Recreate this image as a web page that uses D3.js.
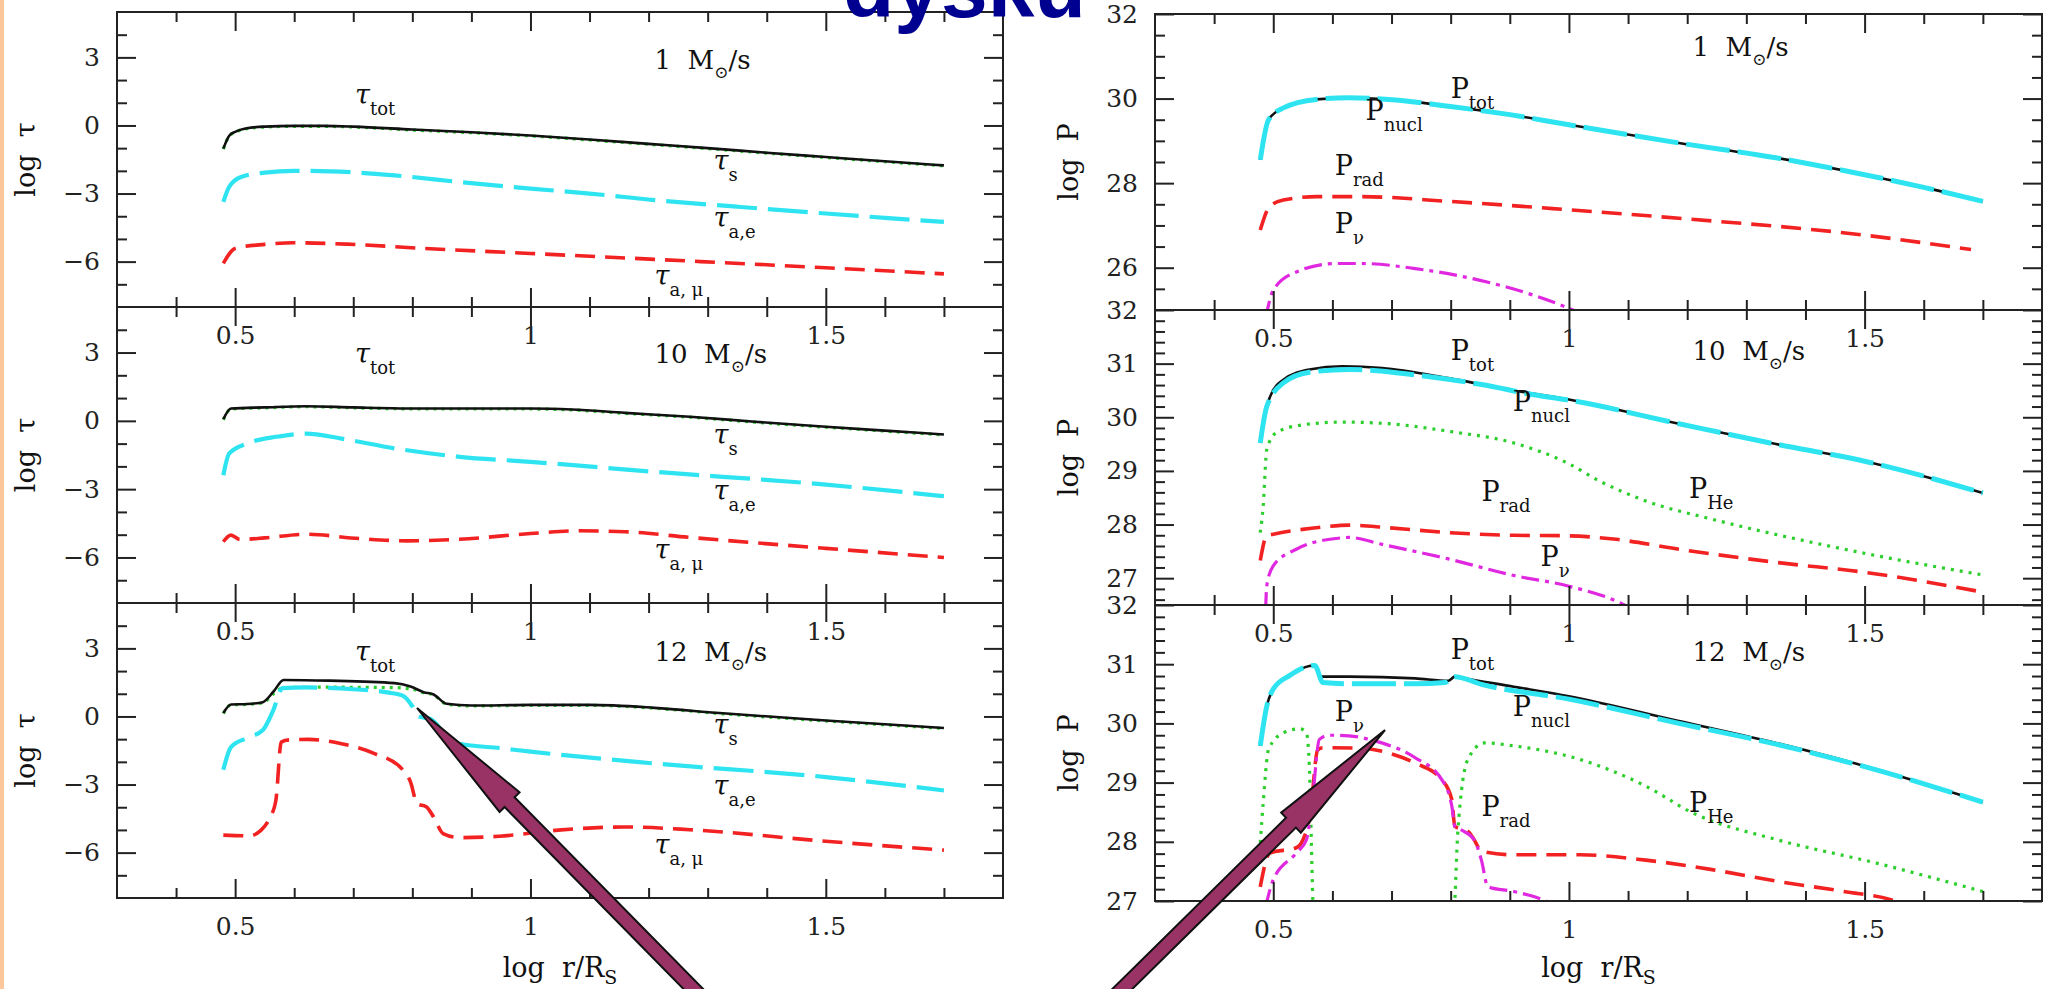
<!DOCTYPE html>
<html>
<head>
<meta charset="utf-8">
<script src="https://cdn.jsdelivr.net/npm/d3@7/dist/d3.min.js"></script>
<style>
  body { margin: 0; background: #fff; overflow: hidden; }
  svg { display: block; }
  text { white-space: pre; }
</style>
</head>
<body>
<svg id="chart" width="2052" height="989"></svg>
<script>
// ---------------- data ----------------
var xMajor = [0.5, 1, 1.5];
var xMinor = [0.4, 0.6, 0.7, 0.8, 0.9, 1.1, 1.2, 1.3, 1.4, 1.6, 1.7];
var xTickLabels = ["0.5", "1", "1.5"];

var tauMajor = [3, 0, -3, -6];
var tauMinor = [4, 2, 1, -1, -2, -4, -5, -7];
var tauTickLabels = ["3", "0", "\u22123", "\u22126"];

var p1Major = [32, 30, 28, 26];
var p1Minor = [31.5, 31, 30.5, 29.5, 29, 28.5, 27.5, 27, 26.5, 25.5];
var p1TickLabels = ["32", "30", "28", "26"];
var p2Major = [32, 31, 30, 29, 28, 27];
var p2Minor = [31.8, 31.6, 31.4, 31.2, 30.8, 30.6, 30.4, 30.2, 29.8, 29.6, 29.4, 29.2,
               28.8, 28.6, 28.4, 28.2, 27.8, 27.6, 27.4, 27.2, 26.8, 26.6];
var p3Minor = [31.8, 31.6, 31.4, 31.2, 30.8, 30.6, 30.4, 30.2, 29.8, 29.6, 29.4, 29.2,
               28.8, 28.6, 28.4, 28.2, 27.8, 27.6, 27.4, 27.2];
var p2TickLabels = ["32", "31", "30", "29", "28", "27"];

var massRates = ["1", "10", "12"];

// optical depths, 1 Msun/s
var tauTot1 = [[0.48,-1.02],[0.49,-0.45],[0.50,-0.28],[0.52,-0.12],[0.55,-0.05],[0.60,-0.02],[0.65,-0.02],[0.70,-0.05],[0.80,-0.18],[0.90,-0.30],[1.00,-0.44],[1.10,-0.62],[1.20,-0.81],[1.30,-1.00],[1.40,-1.20],[1.50,-1.39],[1.60,-1.58],[1.70,-1.76]];
var tauS1 = [[0.48,-1.04],[0.49,-0.47],[0.50,-0.30],[0.52,-0.14],[0.55,-0.07],[0.60,-0.04],[0.65,-0.04],[0.70,-0.07],[0.80,-0.20],[0.90,-0.32],[1.00,-0.46],[1.10,-0.64],[1.20,-0.83],[1.30,-1.02],[1.40,-1.22],[1.50,-1.41],[1.60,-1.60],[1.70,-1.78]];
var tauAe1 = [[0.48,-3.37],[0.49,-2.70],[0.51,-2.27],[0.55,-2.08],[0.60,-2.00],[0.66,-2.02],[0.77,-2.20],[0.88,-2.49],[1.00,-2.78],[1.10,-3.00],[1.21,-3.29],[1.35,-3.58],[1.50,-3.88],[1.60,-4.07],[1.70,-4.25]];
var tauAmu1 = [[0.48,-6.08],[0.50,-5.42],[0.55,-5.24],[0.60,-5.17],[0.69,-5.23],[0.82,-5.42],[1.00,-5.64],[1.21,-5.90],[1.50,-6.27],[1.70,-6.54]];

// 10 Msun/s
var tauTot10 = [[0.48,0.07],[0.493,0.54],[0.55,0.59],[0.62,0.64],[0.70,0.59],[0.82,0.54],[1.00,0.54],[1.07,0.50],[1.16,0.35],[1.27,0.18],[1.38,-0.04],[1.50,-0.26],[1.60,-0.43],[1.70,-0.60]];
var tauS10 = [[0.48,0.05],[0.493,0.52],[0.55,0.57],[0.62,0.62],[0.70,0.57],[0.82,0.52],[1.00,0.52],[1.07,0.48],[1.16,0.33],[1.27,0.16],[1.38,-0.06],[1.50,-0.28],[1.60,-0.45],[1.70,-0.62]];
var tauAe10 = [[0.48,-2.39],[0.49,-1.43],[0.52,-1.00],[0.57,-0.70],[0.62,-0.56],[0.68,-0.78],[0.77,-1.21],[0.88,-1.58],[1.00,-1.80],[1.21,-2.24],[1.50,-2.80],[1.70,-3.31]];
var tauAmu10 = [[0.48,-5.31],[0.493,-5.02],[0.508,-5.21],[0.55,-5.14],[0.62,-4.98],[0.71,-5.17],[0.79,-5.27],[0.88,-5.20],[1.00,-4.95],[1.08,-4.83],[1.16,-4.87],[1.27,-5.12],[1.50,-5.60],[1.70,-6.00]];

// 12 Msun/s
var tauTot12 = [[0.48,0.15],[0.493,0.53],[0.52,0.55],[0.547,0.63],[0.565,1.10],[0.582,1.61],[0.66,1.58],[0.77,1.47],[0.797,1.32],[0.819,1.07],[0.836,0.97],[0.858,0.56],[0.90,0.48],[1.00,0.51],[1.10,0.51],[1.21,0.38],[1.32,0.15],[1.50,-0.18],[1.70,-0.51]];
var tauS12 = [[0.48,0.13],[0.493,0.51],[0.52,0.53],[0.547,0.60],[0.565,1.00],[0.582,1.27],[0.66,1.29],[0.77,1.27],[0.80,1.20],[0.819,1.05],[0.836,0.95],[0.858,0.54],[0.90,0.46],[1.00,0.49],[1.10,0.49],[1.21,0.36],[1.32,0.13],[1.50,-0.20],[1.70,-0.53]];
var tauAe12 = [[0.48,-2.35],[0.493,-1.35],[0.52,-0.95],[0.547,-0.60],[0.565,0.30],[0.58,1.25],[0.62,1.28],[0.70,1.20],[0.76,1.05],[0.785,0.90],[0.80,0.45],[0.81,0.00],[0.83,-0.10],[0.86,-0.90],[0.88,-1.20],[0.95,-1.40],[1.00,-1.55],[1.20,-2.05],[1.50,-2.67],[1.70,-3.26]];
var tauAmu12 = [[0.48,-5.23],[0.524,-5.26],[0.544,-5.01],[0.558,-4.50],[0.569,-3.69],[0.578,-1.13],[0.591,-1.03],[0.624,-1.01],[0.68,-1.20],[0.736,-1.64],[0.782,-2.30],[0.797,-2.89],[0.808,-3.84],[0.824,-3.99],[0.836,-4.43],[0.852,-5.16],[0.88,-5.34],[0.947,-5.28],[1.047,-5.01],[1.158,-4.87],[1.27,-4.99],[1.50,-5.50],[1.70,-5.89]];

// luminosities, 1 Msun/s
var pTot1 = [[0.478,28.55],[0.492,29.50],[0.517,29.78],[0.573,29.98],[0.628,30.02],[0.695,29.98],[0.796,29.82],[0.90,29.62],[1.00,29.38],[1.186,28.95],[1.35,28.60],[1.50,28.20],[1.60,27.90],[1.70,27.57]];
var pNucl1 = [[0.478,28.55],[0.492,29.50],[0.517,29.78],[0.573,29.98],[0.628,30.02],[0.695,29.98],[0.796,29.82],[0.90,29.62],[1.00,29.38],[1.186,28.95],[1.35,28.60],[1.50,28.20],[1.60,27.90],[1.70,27.57]];
var pRad1 = [[0.478,26.89],[0.494,27.45],[0.517,27.60],[0.573,27.68],[0.65,27.68],[0.796,27.57],[1.00,27.37],[1.186,27.17],[1.50,26.77],[1.68,26.43]];
var pNu1 = [[0.487,24.80],[0.50,25.47],[0.539,25.90],[0.606,26.10],[0.65,26.10],[0.74,25.98],[0.85,25.70],[0.94,25.35],[1.01,24.98],[1.03,24.85]];

// 10 Msun/s
var pTot10 = [[0.478,29.52],[0.489,30.20],[0.50,30.51],[0.517,30.70],[0.561,30.89],[0.617,30.95],[0.684,30.92],[0.796,30.73],[0.907,30.50],[1.00,30.33],[1.186,29.88],[1.35,29.50],[1.50,29.18],[1.70,28.59]];
var pNucl10 = [[0.478,29.52],[0.489,30.20],[0.517,30.64],[0.561,30.84],[0.628,30.89],[0.74,30.79],[0.852,30.61],[0.941,30.42],[1.00,30.32],[1.186,29.88],[1.35,29.50],[1.50,29.18],[1.70,28.59]];
var pHe10 = [[0.478,27.85],[0.483,28.35],[0.489,29.40],[0.505,29.71],[0.55,29.86],[0.617,29.91],[0.695,29.88],[0.796,29.74],[0.907,29.52],[0.997,29.15],[1.052,28.81],[1.13,28.44],[1.242,28.10],[1.41,27.67],[1.52,27.42],[1.70,27.06]];
var pRad10 = [[0.478,27.33],[0.489,27.79],[0.50,27.82],[0.573,27.94],[0.628,27.99],[0.695,27.94],[0.796,27.85],[0.907,27.80],[1.00,27.79],[1.075,27.73],[1.186,27.54],[1.354,27.29],[1.50,27.11],[1.70,26.74]];
var pNu10 = [[0.487,26.40],[0.489,26.86],[0.50,27.23],[0.539,27.54],[0.606,27.74],[0.628,27.76],[0.684,27.63],[0.796,27.36],[0.907,27.05],[1.00,26.85],[1.09,26.52],[1.11,26.40]];

// 12 Msun/s
var pTot12 = [[0.478,29.62],[0.489,30.29],[0.50,30.58],[0.528,30.81],[0.561,30.97],[0.57,30.98],[0.581,30.79],[0.628,30.79],[0.74,30.76],[0.796,30.72],[0.807,30.79],[0.818,30.77],[0.907,30.62],[1.00,30.46],[1.186,30.04],[1.35,29.67],[1.50,29.28],[1.70,28.67]];
var pNucl12 = [[0.478,29.62],[0.489,30.29],[0.50,30.58],[0.528,30.81],[0.561,30.97],[0.57,30.98],[0.584,30.69],[0.628,30.67],[0.74,30.67],[0.79,30.69],[0.807,30.79],[0.852,30.66],[1.00,30.41],[1.186,30.00],[1.35,29.65],[1.50,29.27],[1.70,28.67]];
var pHe12 = [[0.478,27.98],[0.483,28.66],[0.492,29.56],[0.517,29.84],[0.545,29.91],[0.556,29.84],[0.561,29.28],[0.567,27.00],[0.572,26.00],[0.80,26.00],[0.807,27.00],[0.812,28.15],[0.829,29.39],[0.857,29.67],[0.907,29.62],[1.019,29.39],[1.13,28.94],[1.209,28.49],[1.354,28.03],[1.52,27.64],[1.70,27.16]];
var pRad12 = [[0.478,27.24],[0.494,27.81],[0.539,27.90],[0.55,28.03],[0.563,28.50],[0.575,29.55],[0.584,29.59],[0.65,29.58],[0.695,29.50],[0.74,29.33],[0.785,29.05],[0.802,28.71],[0.807,28.26],[0.829,28.18],[0.84,28.03],[0.852,27.84],[0.907,27.78],[1.019,27.78],[1.13,27.69],[1.242,27.53],[1.354,27.33],[1.465,27.16],[1.554,26.99],[1.57,26.90]];
var pNu12 = [[0.487,26.90],[0.50,27.36],[0.539,27.81],[0.556,28.03],[0.567,28.80],[0.578,29.73],[0.595,29.80],[0.628,29.79],[0.673,29.70],[0.74,29.42],[0.785,29.05],[0.802,28.60],[0.807,28.26],[0.818,28.20],[0.84,28.03],[0.852,27.69],[0.863,27.24],[0.907,27.16],[0.963,26.99],[0.98,26.90]];

// ---------------- styles ----------------
var sty = {
  tot:  {stroke: "#111", width: 2.6, dash: null},
  s:    {stroke: "#2ccf2c", width: 3.2, dash: "3,5"},
  ae:   {stroke: "#2ee4f0", width: 4.2, dash: "40,11"},
  amu:  {stroke: "#f22222", width: 3.6, dash: "20,10"},
  ptot: {stroke: "#111", width: 2.6, dash: null},
  nucl: {stroke: "#2ee4f0", width: 5, dash: "44,8"},
  rad:  {stroke: "#f22222", width: 3.6, dash: "20,10"},
  he:   {stroke: "#2ccf2c", width: 3.2, dash: "3,6"},
  nu:   {stroke: "#e028e0", width: 3.2, dash: "18,6,4,6"}
};

var FONT = "DejaVu Serif";
var svg = d3.select("#chart");

// orange strip on the left edge of the slide
svg.append("rect").attr("x", 0).attr("y", 0).attr("width", 4).attr("height", 989).attr("fill", "#fcc89b");

var L = {x0: 117, x1: 1003, rows: [12, 307, 603, 898]};
var R = {x0: 1155, x1: 2042, rows: [14, 310, 605, 901]};

var panels = [
  {box: L, row: 0, dom: [-8, 5], major: tauMajor, minor: tauMinor, tl: tauTickLabels,
   series: [[tauS1, sty.s], [tauTot1, sty.tot], [tauAe1, sty.ae], [tauAmu1, sty.amu]],
   notes: [["\u03c4", "tot", 0.703, 0.95], ["\u03c4", "s", 1.31, -1.98], ["\u03c4", "a,e", 1.31, -4.47], ["\u03c4", "a, \u03bc", 1.21, -7.03]],
   mass: [1.21, 2.49]},
  {box: L, row: 1, dom: [-8, 5], major: tauMajor, minor: tauMinor, tl: tauTickLabels,
   series: [[tauS10, sty.s], [tauTot10, sty.tot], [tauAe10, sty.ae], [tauAmu10, sty.amu]],
   notes: [["\u03c4", "tot", 0.703, 2.52], ["\u03c4", "s", 1.31, -1.0], ["\u03c4", "a,e", 1.31, -3.48], ["\u03c4", "a, \u03bc", 1.21, -6.05]],
   mass: [1.21, 2.52]},
  {box: L, row: 2, dom: [-8, 5], major: tauMajor, minor: tauMinor, tl: tauTickLabels,
   series: [[tauS12, sty.s], [tauTot12, sty.tot], [tauAe12, sty.ae], [tauAmu12, sty.amu]],
   notes: [["\u03c4", "tot", 0.703, 2.46], ["\u03c4", "s", 1.31, -0.76], ["\u03c4", "a,e", 1.31, -3.47], ["\u03c4", "a, \u03bc", 1.21, -6.04]],
   mass: [1.21, 2.46]},
  {box: R, row: 0, dom: [25, 32], major: p1Major, minor: p1Minor, tl: p1TickLabels,
   series: [[pNu1, sty.nu], [pRad1, sty.rad], [pTot1, sty.ptot], [pNucl1, sty.nucl]],
   notes: [["P", "tot", 0.80, 30.02], ["P", "nucl", 0.656, 29.5], ["P", "rad", 0.604, 28.2], ["P", "\u03bd", 0.604, 26.81]],
   mass: [1.209, 31.0]},
  {box: R, row: 1, dom: [26.5, 32], major: p2Major, minor: p2Minor, tl: p2TickLabels,
   series: [[pHe10, sty.he], [pRad10, sty.rad], [pNu10, sty.nu], [pTot10, sty.ptot], [pNucl10, sty.nucl]],
   notes: [["P", "tot", 0.80, 31.07], ["P", "nucl", 0.905, 30.11], ["P", "He", 1.203, 28.5], ["P", "rad", 0.852, 28.44], ["P", "\u03bd", 0.952, 27.23]],
   mass: [1.209, 31.07]},
  {box: R, row: 2, dom: [27, 32], major: p2Major, minor: p3Minor, tl: p2TickLabels,
   series: [[pHe12, sty.he], [pRad12, sty.rad], [pNu12, sty.nu], [pTot12, sty.ptot], [pNucl12, sty.nucl]],
   notes: [["P", "tot", 0.80, 31.08], ["P", "nucl", 0.905, 30.12], ["P", "\u03bd", 0.604, 30.04], ["P", "rad", 0.852, 28.43], ["P", "He", 1.203, 28.51]],
   mass: [1.209, 31.06]}
];

function styleAxis(g) {
  g.select(".domain").remove();
  g.attr("color", "#222").attr("font-family", FONT).attr("font-size", 25);
  g.selectAll("line").attr("stroke-width", 2);
}

panels.forEach(function(p, i) {
  var b = p.box, top = b.rows[p.row], bot = b.rows[p.row + 1];
  var x = d3.scaleLinear().domain([0.3, 1.8]).range([b.x0, b.x1]);
  var y = d3.scaleLinear().domain(p.dom).range([bot, top]);
  var g = svg.append("g");

  var clipId = "clip" + i;
  svg.append("clipPath").attr("id", clipId).append("rect")
     .attr("x", b.x0).attr("y", top).attr("width", b.x1 - b.x0).attr("height", bot - top);

  // curves
  var line = d3.line().x(function(d) { return x(d[0]); }).y(function(d) { return y(d[1]); })
               .curve(d3.curveMonotoneX);
  var cg = g.append("g").attr("clip-path", "url(#" + clipId + ")");
  p.series.forEach(function(s) {
    cg.append("path").datum(s[0]).attr("d", line)
      .attr("fill", "none").attr("stroke", s[1].stroke).attr("stroke-width", s[1].width)
      .attr("stroke-dasharray", s[1].dash).attr("stroke-linejoin", "round");
  });

  // inward ticks on all four sides
  g.append("g").attr("transform", "translate(0," + bot + ")")
   .call(d3.axisBottom(x).tickValues(xMinor).tickSize(-10).tickFormat("")).call(styleAxis);
  g.append("g").attr("transform", "translate(0," + bot + ")")
   .call(d3.axisBottom(x).tickValues(xMajor).tickSize(-19).tickPadding(19)
         .tickFormat(function(d, k) { return xTickLabels[k]; })).call(styleAxis);
  g.append("g").attr("transform", "translate(0," + top + ")")
   .call(d3.axisTop(x).tickValues(xMinor).tickSize(-10).tickFormat("")).call(styleAxis);
  g.append("g").attr("transform", "translate(0," + top + ")")
   .call(d3.axisTop(x).tickValues(xMajor).tickSize(-19).tickFormat("")).call(styleAxis);

  g.append("g").attr("transform", "translate(" + b.x0 + ",0)")
   .call(d3.axisLeft(y).tickValues(p.minor).tickSize(-10).tickFormat("")).call(styleAxis);
  g.append("g").attr("transform", "translate(" + b.x0 + ",0)")
   .call(d3.axisLeft(y).tickValues(p.major).tickSize(-19).tickPadding(17)
         .tickFormat(function(d, k) { return p.tl[k]; })).call(styleAxis);
  g.append("g").attr("transform", "translate(" + b.x1 + ",0)")
   .call(d3.axisRight(y).tickValues(p.minor).tickSize(-10).tickFormat("")).call(styleAxis);
  g.append("g").attr("transform", "translate(" + b.x1 + ",0)")
   .call(d3.axisRight(y).tickValues(p.major).tickSize(-19).tickFormat("")).call(styleAxis);

  g.append("rect").attr("x", b.x0).attr("y", top).attr("width", b.x1 - b.x0).attr("height", bot - top)
   .attr("fill", "none").attr("stroke", "#222").attr("stroke-width", 2);

  // curve labels
  p.notes.forEach(function(n) {
    var t = g.append("text").attr("x", x(n[2])).attr("y", y(n[3]))
             .attr("font-family", FONT).attr("font-size", 27).attr("fill", "#111");
    t.append("tspan").text(n[0]).attr("font-style", n[0] === "P" ? null : "italic");
    t.append("tspan").attr("dy", 11).attr("font-size", 18).text(n[1]);
  });

  // mass rate label
  var m = g.append("text").attr("x", x(p.mass[0])).attr("y", y(p.mass[1]))
           .attr("font-family", FONT).attr("font-size", 26).attr("fill", "#111");
  m.append("tspan").text(massRates[p.row] + "  M");
  m.append("tspan").attr("dy", 9).attr("font-size", 17).text("\u2299");
  m.append("tspan").attr("dy", -9).text("/s");
});

// axis titles
[[26, (L.rows[0] + L.rows[1]) / 2], [26, (L.rows[1] + L.rows[2]) / 2], [26, (L.rows[2] + L.rows[3]) / 2]]
  .forEach(function(c) {
    svg.append("text").attr("transform", "translate(" + (c[0] + 9) + "," + c[1] + ") rotate(-90)")
       .attr("text-anchor", "middle").attr("font-family", FONT).attr("font-size", 27).attr("fill", "#111")
       .text("log  \u03c4");
  });
[[1069, (R.rows[0] + R.rows[1]) / 2], [1069, (R.rows[1] + R.rows[2]) / 2], [1069, (R.rows[2] + R.rows[3]) / 2]]
  .forEach(function(c) {
    svg.append("text").attr("transform", "translate(" + (c[0] + 9) + "," + c[1] + ") rotate(-90)")
       .attr("text-anchor", "middle").attr("font-family", FONT).attr("font-size", 27).attr("fill", "#111")
       .text("log  P");
  });
[(L.x0 + L.x1) / 2, (R.x0 + R.x1) / 2].forEach(function(cx) {
  var t = svg.append("text").attr("x", cx).attr("y", 977).attr("text-anchor", "middle")
             .attr("font-family", FONT).attr("font-size", 27).attr("fill", "#111");
  t.append("tspan").text("log  r/R");
  t.append("tspan").attr("dy", 7).attr("font-size", 19).text("S");
});

// slide title, cut by the top edge
svg.append("text").attr("x", 843).attr("y", 17)
   .attr("font-family", "Liberation Sans, Arial, sans-serif").attr("font-weight", "bold")
   .attr("font-size", 84).attr("fill", "#000090").text("dysku");

// two slide arrows
var arrows = [{tail: [714, 1010], tip: [417, 708]}, {tail: [1101, 1010], tip: [1385, 730]}];
arrows.forEach(function(a) {
  var dx = a.tip[0] - a.tail[0], dy = a.tip[1] - a.tail[1];
  var len = Math.sqrt(dx * dx + dy * dy), ux = dx / len, uy = dy / len;
  var nx = -uy, ny = ux, sw = 7, hw = 14, hl = 132;
  var hx = a.tip[0] - ux * hl, hy = a.tip[1] - uy * hl;
  var pts = [
    [a.tail[0] + nx * sw, a.tail[1] + ny * sw], [hx + nx * sw, hy + ny * sw], [hx + nx * hw, hy + ny * hw],
    a.tip, [hx - nx * hw, hy - ny * hw], [hx - nx * sw, hy - ny * sw], [a.tail[0] - nx * sw, a.tail[1] - ny * sw]
  ];
  svg.append("polygon").attr("points", pts.map(function(q) { return q.join(","); }).join(" "))
     .attr("fill", "#993366").attr("stroke", "#111").attr("stroke-width", 2).attr("stroke-linejoin", "miter");
});
</script>
</body>
</html>
